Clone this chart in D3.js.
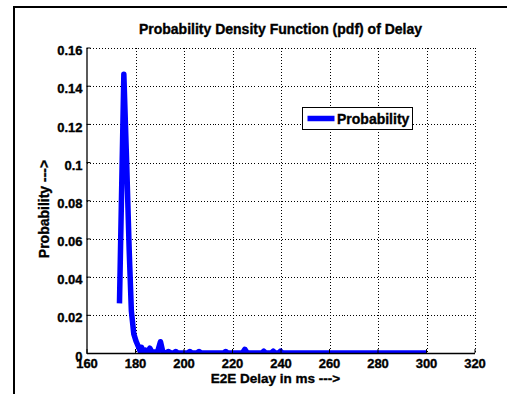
<!DOCTYPE html>
<html>
<head>
<meta charset="utf-8">
<script src="https://cdn.jsdelivr.net/npm/d3@7"></script>
<style>
  body { margin: 0; background: #fff; }
  text { font-family: "Liberation Sans", Arial, sans-serif; font-weight: bold; fill: #000;
         stroke: #000; stroke-width: 0.35px; }
</style>
</head>
<body>
<div id="chart"></div>
<script>
// delay samples (ms) and estimated pdf values
var delays = [173.6, 175.4, 176.6, 177.6, 178.5, 179.5, 180.5, 181.5, 182.1, 182.7,
              183.4, 184.3, 185.3, 186.1, 187.0, 188.3, 189.4, 190.5, 191.5, 192.7,
              193.7, 194.8, 196.0, 196.8, 197.6, 201.8, 202.6, 203.4, 205.6, 206.4,
              207.2, 216.6, 217.4, 218.2, 224.3, 225.3, 226.3, 232.3, 233.1, 233.9,
              236.2, 237.0, 237.8, 239.2, 240.0, 240.8, 300];
var probability = [0.026, 0.146, 0.098, 0.054, 0.022, 0.010, 0.006, 0.003, 0.001, 0.003,
                   0.001, 0.0015, 0.0005, 0.0025, 0.0005, 0.0005, 0.001, 0.0059, 0.0005, 0,
                   0.0008, 0, 0, 0.0008, 0, 0, 0.0008, 0, 0, 0.0008,
                   0, 0, 0.0008, 0, 0, 0.0019, 0, 0, 0.001, 0,
                   0, 0.001, 0, 0, 0.001, 0, 0];

var xTicks = [160, 180, 200, 220, 240, 260, 280, 300, 320];
var yTicks = [0, 0.02, 0.04, 0.06, 0.08, 0.1, 0.12, 0.14, 0.16];
var yTickLabels = ["0", "0.02", "0.04", "0.06", "0.08", "0.1", "0.12", "0.14", "0.16"];

var titleText = "Probability Density Function (pdf) of Delay",
    xLabel = "E2E Delay in ms --->",
    yLabel = "Probability --->",
    legendLabel = "Probability";

var width = 507, height = 394;
var margin = {left: 86.5, top: 47.5},
    w = 388, h = 305.5;

var svg = d3.select("#chart").append("svg")
    .attr("width", width)
    .attr("height", height);

// figure frame
svg.append("rect")
    .attr("x", 14).attr("y", 7)
    .attr("width", 600).attr("height", 500)
    .attr("fill", "none")
    .attr("stroke", "#000")
    .attr("stroke-width", 2);

var g = svg.append("g")
    .attr("transform", "translate(" + margin.left + "," + margin.top + ")");

var x = d3.scaleLinear().domain([160, 320]).range([0, w]);
var y = d3.scaleLinear().domain([0, 0.16]).range([h, 0]);

// grid
g.append("g")
    .attr("class", "grid")
    .selectAll("line.vg").data(xTicks.slice(1)).enter().append("line")
    .attr("x1", function(d) { return Math.round(x(d)) + 0.5; })
    .attr("x2", function(d) { return Math.round(x(d)) + 0.5; })
    .attr("y1", 0).attr("y2", h);
g.select(".grid")
    .selectAll("line.hg").data(yTicks.slice(1)).enter().append("line")
    .attr("x1", 0).attr("x2", w)
    .attr("y1", function(d) { return Math.round(y(d)) + 0.5; })
    .attr("y2", function(d) { return Math.round(y(d)) + 0.5; });
g.selectAll(".grid line")
    .attr("stroke", "#000")
    .attr("stroke-width", 1)
    .attr("stroke-dasharray", "1,2")
    .attr("shape-rendering", "crispEdges");

// data line, clipped to the axes
svg.append("clipPath").attr("id", "clip")
  .append("rect").attr("width", w).attr("height", h);

var pts = delays.map(function(d, i) { return [d, probability[i]]; });
var line = d3.line()
    .x(function(d) { return x(d[0]); })
    .y(function(d) { return y(d[1]); });

g.append("path")
    .datum(pts)
    .attr("clip-path", "url(#clip)")
    .attr("d", line)
    .attr("fill", "none")
    .attr("stroke", "#0000ff")
    .attr("stroke-width", 5.5)
    .attr("stroke-linejoin", "round");

// axes
var xAxis = g.append("g")
    .attr("transform", "translate(0," + h + ")")
    .call(d3.axisBottom(x).tickValues(xTicks).tickSize(-4).tickPadding(6).tickSizeOuter(0));
var yAxis = g.append("g")
    .call(d3.axisLeft(y).tickValues(yTicks).tickSize(-4).tickPadding(4).tickSizeOuter(0)
      .tickFormat(function(d, i) { return yTickLabels[i]; }));

[xAxis, yAxis].forEach(function(a) {
  a.select(".domain").attr("stroke", "#000").attr("stroke-width", 1.3);
  a.selectAll(".tick line").attr("stroke", "#000");
  a.selectAll(".tick text")
    .attr("font-size", 13)
    .style("font-family", "'Liberation Sans', Arial, sans-serif")
    .style("font-weight", "bold")
    .attr("fill", "#000");
});
yAxis.selectAll(".tick text").attr("dy", "0.55em");

// titles
svg.append("text")
    .attr("x", margin.left + w / 2).attr("y", 33.5)
    .attr("text-anchor", "middle")
    .attr("font-size", 14)
    .text(titleText);

svg.append("text")
    .attr("x", 275.5).attr("y", 383)
    .attr("text-anchor", "middle")
    .attr("font-size", 13.5)
    .text(xLabel);

svg.append("text")
    .attr("transform", "translate(49,209) rotate(-90)")
    .attr("text-anchor", "middle")
    .attr("font-size", 14)
    .text(yLabel);

// legend
var lg = svg.append("g").attr("transform", "translate(302.5,107.5)");
lg.append("rect")
    .attr("width", 110).attr("height", 22)
    .attr("fill", "#fff")
    .attr("stroke", "#000")
    .attr("stroke-width", 1);
lg.append("line")
    .attr("x1", 5).attr("x2", 32)
    .attr("y1", 11).attr("y2", 11)
    .attr("stroke", "#0000ff")
    .attr("stroke-width", 5.5);
lg.append("text")
    .attr("x", 34.5).attr("y", 16)
    .attr("font-size", 14)
    .text(legendLabel);
</script>
</body>
</html>
